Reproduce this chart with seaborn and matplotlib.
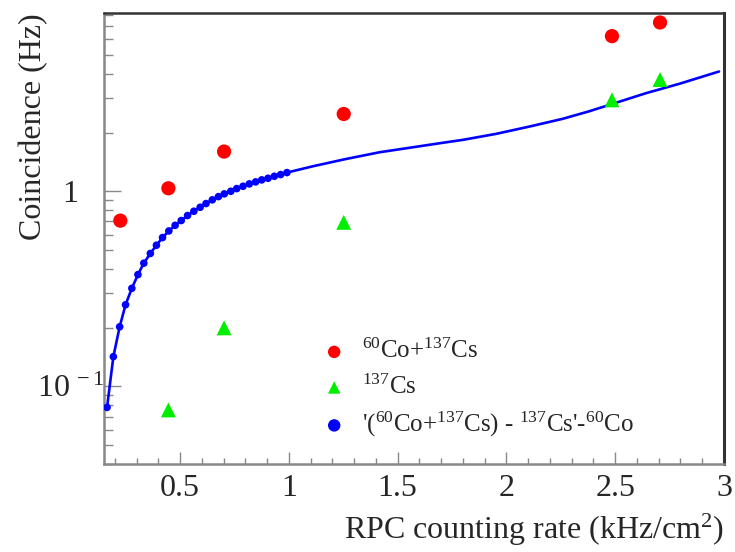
import numpy as np
import pandas as pd
import matplotlib
matplotlib.use("Agg")
import matplotlib.pyplot as plt
import matplotlib.ticker as mticker
import seaborn as sns

# ---- data ----
mix_x = [0.225, 0.446, 0.702, 1.252, 2.485, 2.706]
mix_y = [0.707, 1.036, 1.598, 2.49, 6.24, 7.33]

cs_x = [0.446, 0.702, 1.252, 2.485, 2.706]
cs_y = [0.0757, 0.1995, 0.693, 2.94, 3.74]

co_x = [0.164, 0.193, 0.222, 0.249, 0.278, 0.306, 0.333, 0.363, 0.391, 0.419,
        0.448, 0.477, 0.505, 0.534, 0.563, 0.592, 0.619, 0.648, 0.676, 0.703,
        0.733, 0.760, 0.789, 0.818, 0.847, 0.875, 0.904, 0.933, 0.962, 0.991]
co_y = [0.078, 0.142, 0.202, 0.262, 0.318, 0.374, 0.428, 0.480, 0.529, 0.579,
        0.626, 0.669, 0.708, 0.751, 0.790, 0.828, 0.865, 0.904, 0.939, 0.970,
        1.000, 1.032, 1.061, 1.091, 1.117, 1.144, 1.166, 1.194, 1.218, 1.247]

# continuation of the curve beyond the dotted region
tail_x = [1.111, 1.265, 1.417, 1.570, 1.693, 1.800, 1.953, 2.106, 2.258,
          2.381, 2.488, 2.641, 2.794, 2.977]
tail_y = [1.344, 1.466, 1.585, 1.681, 1.763, 1.835, 1.970, 2.147, 2.351,
          2.572, 2.807, 3.182, 3.554, 4.11]

labels = [r"$^{60}$Co+$^{137}$Cs", r"$^{137}$Cs",
          r"'($^{60}$Co+$^{137}$Cs) - $^{137}$Cs'-$^{60}$Co"]
xlabel = r"RPC counting rate (kHz/cm$^{2}$)"
ylabel = "Coincidence (Hz)"
xticks = [0.5, 1, 1.5, 2, 2.5, 3]
xticklabels = ["0.5", "1", "1.5", "2", "2.5", "3"]
yticks = [0.1, 1]
yticklabels = [r"$10^{\;-1}$", "1"]

# ---- styling ----
sns.set_style("ticks")
plt.rcParams["font.family"] = ["Liberation Serif", "DejaVu Serif"]
plt.rcParams["mathtext.fontset"] = "custom"
plt.rcParams["mathtext.rm"] = "Liberation Serif"
plt.rcParams["mathtext.it"] = "Liberation Serif:italic"
plt.rcParams["mathtext.bf"] = "Liberation Serif:bold"

fig = plt.figure(figsize=(7.35, 5.52), dpi=100)
ax = fig.add_axes([104/735, 1-464/552, (724-104)/735, (464-13)/552])

df_mix = pd.DataFrame({"x": mix_x, "y": mix_y})
df_cs = pd.DataFrame({"x": cs_x, "y": cs_y})
df_co = pd.DataFrame({"x": co_x, "y": co_y})
df_line = pd.DataFrame({"x": co_x + tail_x, "y": co_y + tail_y})

sns.lineplot(data=df_line, x="x", y="y", ax=ax, color="#0000ff", lw=1.9,
             sort=True, estimator=None, legend=False)
sns.scatterplot(data=df_mix, x="x", y="y", ax=ax, color="#ff0000", s=105,
                marker="o", edgecolor="none", label=labels[0], zorder=3)
sns.scatterplot(data=df_cs, x="x", y="y", ax=ax, color="#00ee00", s=115,
                marker="^", edgecolor="none", label=labels[1], zorder=3)
sns.scatterplot(data=df_co, x="x", y="y", ax=ax, color="#0000ff", s=30,
                marker="o", edgecolor="none", label=labels[2], zorder=4)

ax.set_yscale("log")
ax.set_xlim(0.15, 3.0)
ax.set_ylim(0.04, 8.2)

ax.set_xticks(xticks)
ax.set_xticklabels(xticklabels)
ax.xaxis.set_minor_locator(mticker.MultipleLocator(0.1))
ax.yaxis.set_major_locator(mticker.FixedLocator(yticks))
ax.yaxis.set_major_formatter(mticker.FixedFormatter(yticklabels))
ax.yaxis.set_minor_locator(mticker.LogLocator(base=10, subs=np.arange(2, 10)))
ax.yaxis.set_minor_formatter(mticker.NullFormatter())

ax.tick_params(axis="both", which="both", direction="in", color="#888888",
               top=False, right=False)
ax.tick_params(axis="x", which="major", length=9, width=1, labelsize=23, pad=7)
ax.tick_params(axis="x", which="minor", length=4.5, width=1)
ax.tick_params(axis="y", which="major", length=12, width=1, labelsize=23, pad=24)
ax.tick_params(axis="y", which="minor", length=6.5, width=1)
for lab in ax.get_yticklabels():
    lab.set_horizontalalignment("center")

ax.spines["left"].set_color("#888888")
ax.spines["bottom"].set_color("#888888")
ax.spines["left"].set_linewidth(1.8)
ax.spines["bottom"].set_linewidth(1.8)
ax.spines["top"].set_color("#333333")
ax.spines["right"].set_color("#333333")
ax.spines["top"].set_linewidth(1.8)
ax.spines["right"].set_linewidth(2.2)

ax.set_xlabel(xlabel, fontsize=23, loc="right")
ax.set_ylabel(ylabel, fontsize=23, loc="top")
ax.xaxis.set_label_coords(1.0, -0.106)
ax.yaxis.set_label_coords(-0.090, 1.0)

leg = ax.legend(loc="upper left", bbox_to_anchor=(0.335, 0.299), frameon=False,
                fontsize=18, handletextpad=0.6, labelspacing=0.45,
                borderaxespad=0, handlelength=1.0)
for h in leg.legend_handles:
    h.set_sizes([80])

fig.savefig("out.png", dpi=100)
